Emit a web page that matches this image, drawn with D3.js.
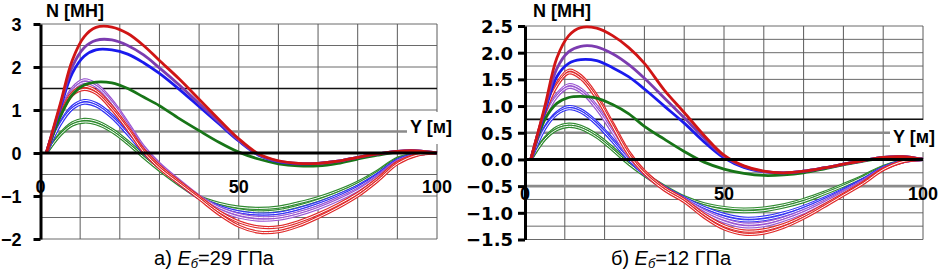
<!DOCTYPE html>
<html><head><meta charset="utf-8">
<script src="https://cdn.jsdelivr.net/npm/d3@7"></script>
<style>
body{margin:0;background:#fff;}
svg{display:block;}
</style></head>
<body><svg id="c" width="942" height="272"></svg>
<script>
// ---------- DATA ----------
const X = [1.5, 5, 8, 11, 14, 18, 22, 26, 30, 35, 40, 45, 50, 55, 60, 65, 70, 75, 80, 85, 90, 95, 100];

// a) Eб=29 ГПа
const aThickRed    = [0, 1.15, 2.15, 2.7, 2.92, 2.93, 2.78, 2.5, 2.15, 1.72, 1.25, 0.78, 0.33, -0.02, -0.18, -0.24, -0.24, -0.19, -0.1, -0.02, 0.04, 0.05, 0];
const aThickPurple = [0, 1.1, 2.0, 2.45, 2.62, 2.63, 2.5, 2.28, 1.98, 1.58, 1.15, 0.72, 0.3, -0.04, -0.19, -0.24, -0.24, -0.19, -0.1, -0.02, 0.04, 0.05, 0];
const aThickBlue   = [0, 1.05, 1.85, 2.25, 2.4, 2.4, 2.3, 2.1, 1.85, 1.48, 1.08, 0.68, 0.28, -0.05, -0.2, -0.25, -0.24, -0.19, -0.1, -0.02, 0.04, 0.05, 0];
const aThickGreen  = [0, 0.85, 1.35, 1.58, 1.65, 1.63, 1.5, 1.3, 1.1, 0.8, 0.52, 0.25, 0.02, -0.14, -0.25, -0.3, -0.3, -0.24, -0.14, -0.05, 0.02, 0.04, 0];
const aThinGreen1  = [0, 0.45, 0.7, 0.78, 0.74, 0.55, 0.27, -0.05, -0.35, -0.7, -1.01, -1.17, -1.26, -1.29, -1.26, -1.16, -1.04, -0.88, -0.68, -0.42, -0.12, -0.02, 0];
const aThinGreen2  = [0, 0.42, 0.65, 0.72, 0.68, 0.5, 0.22, -0.1, -0.4, -0.74, -1.04, -1.22, -1.32, -1.37, -1.34, -1.24, -1.1, -0.93, -0.72, -0.45, -0.14, -0.03, 0];
const aThinBlue1   = [0, 0.7, 1.08, 1.22, 1.15, 0.88, 0.48, 0.05, -0.3, -0.68, -1.02, -1.24, -1.37, -1.42, -1.4, -1.3, -1.16, -0.98, -0.77, -0.49, -0.16, -0.03, 0];
const aThinBlue2   = [0, 0.67, 1.03, 1.16, 1.1, 0.83, 0.44, 0.01, -0.34, -0.71, -1.05, -1.28, -1.42, -1.47, -1.45, -1.35, -1.2, -1.02, -0.8, -0.51, -0.17, -0.03, 0];
const aThinPurple1 = [0, 0.95, 1.5, 1.7, 1.6, 1.22, 0.7, 0.15, -0.25, -0.64, -1.0, -1.27, -1.43, -1.5, -1.49, -1.39, -1.25, -1.06, -0.84, -0.54, -0.19, -0.04, 0];
const aThinPurple2 = [0, 0.92, 1.45, 1.64, 1.55, 1.17, 0.65, 0.1, -0.29, -0.68, -1.04, -1.32, -1.49, -1.56, -1.54, -1.44, -1.29, -1.1, -0.87, -0.56, -0.2, -0.04, 0];
const aThinRed1    = [0, 0.9, 1.4, 1.55, 1.45, 1.08, 0.6, 0.08, -0.3, -0.67, -1.02, -1.36, -1.6, -1.72, -1.72, -1.6, -1.42, -1.2, -0.94, -0.6, -0.22, -0.04, 0];
const aThinRed2    = [0, 0.87, 1.35, 1.48, 1.39, 1.02, 0.55, 0.03, -0.35, -0.71, -1.06, -1.42, -1.7, -1.84, -1.83, -1.7, -1.5, -1.27, -1.0, -0.65, -0.25, -0.05, 0];

// б) Eб=12 ГПа
const bThickRed    = [0, 1.0, 1.9, 2.32, 2.47, 2.46, 2.32, 2.1, 1.8, 1.3, 0.88, 0.45, 0.08, -0.12, -0.22, -0.25, -0.22, -0.16, -0.09, -0.02, 0.04, 0.05, 0];
const bThickPurple = [0, 0.95, 1.7, 2.02, 2.12, 2.11, 1.98, 1.78, 1.52, 1.15, 0.78, 0.4, 0.06, -0.13, -0.23, -0.25, -0.22, -0.16, -0.09, -0.02, 0.04, 0.05, 0];
const bThickBlue   = [0, 0.9, 1.55, 1.8, 1.87, 1.85, 1.72, 1.55, 1.32, 1.0, 0.68, 0.33, 0.03, -0.15, -0.23, -0.25, -0.22, -0.16, -0.09, -0.02, 0.04, 0.05, 0];
const bThickGreen  = [0, 0.75, 1.05, 1.16, 1.18, 1.15, 1.03, 0.86, 0.62, 0.38, 0.15, -0.05, -0.18, -0.26, -0.3, -0.29, -0.25, -0.18, -0.1, -0.03, 0.02, 0.04, 0];
const bThinGreen1  = [0, 0.4, 0.6, 0.66, 0.62, 0.46, 0.22, -0.04, -0.26, -0.5, -0.7, -0.83, -0.9, -0.93, -0.91, -0.85, -0.75, -0.62, -0.47, -0.31, -0.13, -0.03, 0];
const bThinGreen2  = [0, 0.38, 0.56, 0.62, 0.58, 0.42, 0.18, -0.08, -0.3, -0.54, -0.73, -0.87, -0.95, -0.98, -0.96, -0.89, -0.79, -0.65, -0.5, -0.33, -0.14, -0.03, 0];
const bThinBlue1   = [0, 0.6, 0.88, 0.99, 0.93, 0.7, 0.38, 0.04, -0.25, -0.52, -0.72, -0.9, -1.03, -1.1, -1.08, -1.0, -0.88, -0.73, -0.56, -0.37, -0.15, -0.03, 0];
const bThinBlue2   = [0, 0.58, 0.85, 0.95, 0.89, 0.66, 0.34, 0.0, -0.28, -0.55, -0.75, -0.94, -1.08, -1.15, -1.13, -1.05, -0.92, -0.76, -0.58, -0.38, -0.16, -0.04, 0];
const bThinPurple1 = [0, 0.8, 1.22, 1.4, 1.32, 1.0, 0.56, 0.1, -0.24, -0.53, -0.74, -0.96, -1.12, -1.21, -1.19, -1.1, -0.96, -0.79, -0.6, -0.4, -0.17, -0.04, 0];
const bThinPurple2 = [0, 0.78, 1.18, 1.35, 1.27, 0.95, 0.51, 0.06, -0.27, -0.56, -0.77, -1.0, -1.17, -1.26, -1.24, -1.14, -1.0, -0.82, -0.62, -0.41, -0.18, -0.04, 0];
const bThinRed1    = [0, 0.9, 1.42, 1.67, 1.57, 1.2, 0.68, 0.15, -0.22, -0.53, -0.75, -1.03, -1.24, -1.34, -1.32, -1.22, -1.06, -0.86, -0.65, -0.43, -0.18, -0.04, 0];
const bThinRed2    = [0, 0.88, 1.38, 1.62, 1.52, 1.15, 0.63, 0.1, -0.26, -0.57, -0.79, -1.08, -1.3, -1.4, -1.38, -1.27, -1.1, -0.89, -0.67, -0.45, -0.19, -0.04, 0];

// ticks
const xGrid = [0, 10, 20, 30, 40, 50, 60, 70, 80, 90, 100];
const xTickLabels = [0, 50, 100];
const aYTicks = [-2, -1, 0, 1, 2, 3];
const aYGrid = [-2, -1.5, -1, -0.5, 0, 0.5, 1, 1.5, 2, 2.5, 3];
const bYTicks = [-1.5, -1.0, -0.5, 0.0, 0.5, 1.0, 1.5, 2.0, 2.5];
const bYGrid = [-1.5, -1.25, -1, -0.75, -0.5, -0.25, 0, 0.25, 0.5, 0.75, 1, 1.25, 1.5, 1.75, 2, 2.25, 2.5];

// ---------- DRAW ----------
const COL = {
  red: "#d01515", purple: "#7c3cb0", blue: "#1a1aee", green: "#187518",
  tred: "#e02a2a", tpurple: "#9a55d2", tblue: "#3434f5", tgreen: "#2f8a2f"
};
const svg = d3.select("#c");

function drawChart(cfg) {
  const g = svg.append("g");
  const x = d3.scaleLinear().domain([0, 100]).range([cfg.x0, cfg.x1]);
  const y = d3.scaleLinear().domain(cfg.yDomain).range([cfg.yBottom, cfg.yTop]);

  // grid
  g.selectAll(".hg").data(cfg.yGrid).enter().append("line")
    .attr("x1", x(0)).attr("x2", x(100))
    .attr("y1", d => y(d)).attr("y2", d => y(d))
    .attr("stroke", "#6a6a6a").attr("stroke-width", 1);
  g.selectAll(".vg").data(xGrid.filter(d => d > 0)).enter().append("line")
    .attr("x1", d => x(d)).attr("x2", d => x(d))
    .attr("y1", y(cfg.yDomain[0])).attr("y2", y(cfg.yDomain[1]))
    .attr("stroke", "#5a5a5a").attr("stroke-width", 1);
  // dark line
  g.append("line").attr("x1", x(0)).attr("x2", x(100))
    .attr("y1", y(cfg.darkLine)).attr("y2", y(cfg.darkLine))
    .attr("stroke", "#111").attr("stroke-width", 1.6);
  // grey thick lines
  cfg.greyLines.forEach(gl => {
    g.append("line").attr("x1", x(0)).attr("x2", gl.to)
      .attr("y1", y(gl.v)).attr("y2", y(gl.v))
      .attr("stroke", "#8a8a8a").attr("stroke-width", 2.6);
  });

  // label box for Y [м]
  g.append("rect").attr("x", cfg.yLab.x - 3).attr("y", cfg.yLab.boxTop)
    .attr("width", 60).attr("height", cfg.yLab.boxH).attr("fill", "#fff");

  const line = d3.line().x((d, i) => x(X[i])).y(d => y(d)).curve(d3.curveCatmullRom.alpha(0.5));

  // thin double lines
  cfg.thin.forEach(s => {
    g.append("path").attr("d", line(s.v)).attr("fill", "none")
      .attr("stroke", s.c).attr("stroke-width", 3.2);
    g.append("path").attr("d", line(s.v)).attr("fill", "none")
      .attr("stroke", "#fff").attr("stroke-width", 1.0);
  });
  // thick lines
  cfg.thick.forEach(s => {
    g.append("path").attr("d", line(s.v)).attr("fill", "none")
      .attr("stroke", s.c).attr("stroke-width", 2.8).attr("stroke-linejoin", "round");
  });

  // zero axis
  g.append("line").attr("x1", x(0)).attr("x2", x(100))
    .attr("y1", y(0)).attr("y2", y(0))
    .attr("stroke", "#000").attr("stroke-width", 3);

  // y axis
  const ax = d3.axisLeft(y).tickValues(cfg.yTicks).tickSize(7).tickSizeOuter(0)
    .tickPadding(cfg.tickPad).tickFormat(cfg.fmt);
  const ag = g.append("g").attr("transform", `translate(${x(0)},0)`).call(ax);
  ag.select(".domain").attr("stroke", "#000").attr("stroke-width", 3);
  ag.selectAll(".tick line").attr("stroke", "#000").attr("stroke-width", 3);
  ag.selectAll(".tick text").attr("font-family", cfg.tickFont).attr("font-weight", "bold")
    .attr("font-size", 18).attr("fill", "#000").attr("dy", "0.36em");

  // x tick labels
  g.selectAll(".xl").data(xTickLabels).enter().append("text")
    .attr("x", d => x(d)).attr("y", cfg.xLabY)
    .attr("text-anchor", "middle")
    .attr("font-family", "Liberation Sans").attr("font-weight", "bold").attr("font-size", 18)
    .text(d => d);

  // titles
  g.append("text").attr("x", cfg.nLab.x).attr("y", cfg.nLab.y)
    .attr("font-family", "Liberation Sans").attr("font-weight", "bold").attr("font-size", 18)
    .text("N [MH]");
  g.append("text").attr("x", cfg.yLab.x).attr("y", cfg.yLab.y)
    .attr("font-family", "Liberation Sans").attr("font-weight", "bold").attr("font-size", 18)
    .text("Y [м]");

  // caption
  const cap = g.append("text").attr("x", cfg.cap.x).attr("y", 265)
    .attr("text-anchor", "middle")
    .attr("font-family", "Liberation Sans").attr("font-size", 20);
  cap.append("tspan").text(cfg.cap.pre);
  cap.append("tspan").attr("font-style", "italic").text("E");
  cap.append("tspan").attr("font-style", "italic").attr("font-size", 13).attr("dy", 3).text("б");
  cap.append("tspan").attr("dy", -3).text(cfg.cap.post);
}

drawChart({
  x0: 40.5, x1: 437, yTop: 24, yBottom: 239, yDomain: [-2, 3],
  yTicks: aYTicks, yGrid: aYGrid, fmt: d3.format("d"), tickPad: 12, tickFont: "Liberation Sans",
  darkLine: 1.5, greyLines: [{v: 0.5, to: 407}],
  xLabY: 193,
  nLab: {x: 46, y: 17},
  yLab: {x: 410, y: 133, boxTop: 112, boxH: 32},
  cap: {x: 214, pre: "а) ", post: "=29 ГПа"},
  thin: [
    {v: aThinGreen1, c: COL.tgreen}, {v: aThinGreen2, c: COL.tgreen},
    {v: aThinBlue1, c: COL.tblue}, {v: aThinBlue2, c: COL.tblue},
    {v: aThinPurple1, c: COL.tpurple}, {v: aThinPurple2, c: COL.tpurple},
    {v: aThinRed1, c: COL.tred}, {v: aThinRed2, c: COL.tred}
  ],
  thick: [
    {v: aThickGreen, c: COL.green}, {v: aThickBlue, c: COL.blue},
    {v: aThickPurple, c: COL.purple}, {v: aThickRed, c: COL.red}
  ]
});

drawChart({
  x0: 525, x1: 923, yTop: 26, yBottom: 239.5, yDomain: [-1.5, 2.5],
  yTicks: bYTicks, yGrid: bYGrid, fmt: d3.format(".1f"), tickPad: 5, tickFont: "DejaVu Sans",
  darkLine: 0.75, greyLines: [{v: 0.5, to: 891}, {v: -0.5, to: 923}],
  xLabY: 200,
  nLab: {x: 533, y: 17},
  yLab: {x: 893, y: 143, boxTop: 120, boxH: 32},
  cap: {x: 671, pre: "б) ", post: "=12 ГПа"},
  thin: [
    {v: bThinGreen1, c: COL.tgreen}, {v: bThinGreen2, c: COL.tgreen},
    {v: bThinBlue1, c: COL.tblue}, {v: bThinBlue2, c: COL.tblue},
    {v: bThinPurple1, c: COL.tpurple}, {v: bThinPurple2, c: COL.tpurple},
    {v: bThinRed1, c: COL.tred}, {v: bThinRed2, c: COL.tred}
  ],
  thick: [
    {v: bThickGreen, c: COL.green}, {v: bThickBlue, c: COL.blue},
    {v: bThickPurple, c: COL.purple}, {v: bThickRed, c: COL.red}
  ]
});
</script></body></html>
